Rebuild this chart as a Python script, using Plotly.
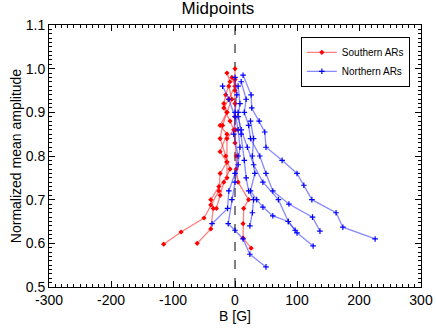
import plotly.graph_objects as go

# Southern ARs (red) - B [G] and normalized mean amplitude
south_b = [
    [-13, -8, -15, -18, -13, -24, -13, -24, -13, -24, -26, -39, -50, -87, -115],
    [-5, 0, -10, -18, -8, -2, -13, -13, -13, -26, -39, -35, -39, -61],
    [0, 0, 0, 0, 0, 1, 0, 2, 2, 5, 22, 14, 13, 13, 26],
    [-10, -5, -13, -20, -24, -15, -8, -18, -24, -30],
]
south_a = [
    [0.99, 0.97, 0.94, 0.92, 0.90, 0.87, 0.85, 0.81, 0.786, 0.76, 0.72, 0.688, 0.658, 0.626, 0.598],
    [0.98, 0.96, 0.93, 0.91, 0.88, 0.86, 0.84, 0.786, 0.75, 0.73, 0.70, 0.68, 0.633, 0.60],
    [1.0, 0.975, 0.95, 0.92, 0.89, 0.86, 0.83, 0.80, 0.77, 0.74, 0.70, 0.68, 0.645, 0.612, 0.589],
    [0.96, 0.93, 0.90, 0.87, 0.84, 0.80, 0.77, 0.74, 0.71, 0.68],
]

# Northern ARs (blue)
north_b = [
    [13, 26, 27, 39, 48, 50, 76, 100, 111, 124, 163, 174, 226],
    [10, 18, 15, 22, 25, 40, 50, 61, 87, 125, 137],
    [5, 8, 5, 10, 20, 30, 45, 70, 86, 100, 126],
    [0, 3, 0, 5, 8, 5, 0, -5, -11, 0, 13, 24, 50],
    [-20, -10, 0, -2, 5, 0, -10, -12, -37],
    [25, 30, 28, 32, 25, 35, 45, 61, 86, 97],
    [5, 10, 15, 18, 22, 30, 28, 24],
]
north_a = [
    [0.985, 0.94, 0.91, 0.88, 0.855, 0.82, 0.79, 0.76, 0.733, 0.70, 0.67, 0.637, 0.61],
    [0.97, 0.93, 0.90, 0.87, 0.84, 0.80, 0.76, 0.72, 0.69, 0.66, 0.628],
    [0.96, 0.92, 0.89, 0.86, 0.82, 0.78, 0.74, 0.70, 0.65, 0.624, 0.594],
    [0.98, 0.94, 0.90, 0.86, 0.82, 0.78, 0.74, 0.70, 0.645, 0.63, 0.61, 0.575, 0.546],
    [0.96, 0.93, 0.89, 0.85, 0.80, 0.76, 0.72, 0.68, 0.645],
    [0.88, 0.84, 0.80, 0.76, 0.72, 0.70, 0.683, 0.663, 0.65, 0.63],
    [0.90, 0.85, 0.79, 0.75, 0.72, 0.70, 0.67, 0.64],
]

x_ticks = [-300, -200, -100, 0, 100, 200, 300]
x_labels = ["-300", "-200", "-100", "0", "100", "200", "300"]
y_ticks = [0.5, 0.6, 0.7, 0.8, 0.9, 1.0, 1.1]
y_labels = ["0.5", "0.6", "0.7", "0.8", "0.9", "1.0", "1.1"]

fig = go.Figure()

for i, (bx, ay) in enumerate(zip(south_b, south_a)):
    fig.add_trace(go.Scatter(
        x=bx, y=ay, mode="lines+markers", name="Southern ARs",
        legendgroup="s", showlegend=(i == 0),
        line=dict(color="rgba(255,40,40,0.6)", width=1.3),
        marker=dict(symbol="diamond", size=4, color="red"),
    ))

for i, (bx, ay) in enumerate(zip(north_b, north_a)):
    fig.add_trace(go.Scatter(
        x=bx, y=ay, mode="lines+markers", name="Northern ARs",
        legendgroup="n", showlegend=(i == 0),
        line=dict(color="rgba(40,40,255,0.55)", width=1.3),
        marker=dict(symbol="cross-thin", size=4, color="blue",
                    line=dict(color="blue", width=1.2)),
    ))

# dashed line at B = 0
fig.add_shape(type="line", x0=0, x1=0, y0=0, y1=1, xref="x", yref="paper",
              line=dict(color="gray", width=2, dash="dash"), layer="below")

axis_style = dict(
    showgrid=False, zeroline=False, showline=True, linecolor="black",
    linewidth=1, mirror="ticks", ticks="inside", ticklen=6,
    tickcolor="black", tickfont=dict(size=14, color="black"),
    automargin=False,
)
fig.update_xaxes(range=[-300, 300], tickvals=x_ticks, ticktext=x_labels,
                 minor=dict(ticks="inside", ticklen=3, dtick=10, tickcolor="black"),
                 title=dict(text="B [G]", font=dict(size=14, color="black"), standoff=0),
                 **axis_style)
fig.update_yaxes(range=[0.5, 1.1], tickvals=y_ticks, ticktext=y_labels,
                 minor=dict(ticks="inside", ticklen=3, dtick=0.01, tickcolor="black"),
                 title=dict(text="Normalized mean amplitude", font=dict(size=14, color="black"), standoff=0),
                 **axis_style)

fig.update_layout(
    width=436, height=334,
    margin=dict(l=49, r=15, t=25, b=47),
    paper_bgcolor="white", plot_bgcolor="white",
    font=dict(family="Liberation Sans, Arial, sans-serif", color="black"),
    title=dict(text="Midpoints", x=0.5, xanchor="center", y=0.995, yanchor="top",
               font=dict(size=17, color="black")),
    legend=dict(x=0.97, xanchor="right", y=0.955, yanchor="top",
                bordercolor="black", borderwidth=1, bgcolor="white",
                font=dict(size=10, color="black"), tracegroupgap=0,
                itemwidth=30),
)

# drop the page's default body margin so the figure fills the window exactly
fig.write_html("out.html", config={"displayModeBar": False},
               post_script="document.body.style.margin='0';")
